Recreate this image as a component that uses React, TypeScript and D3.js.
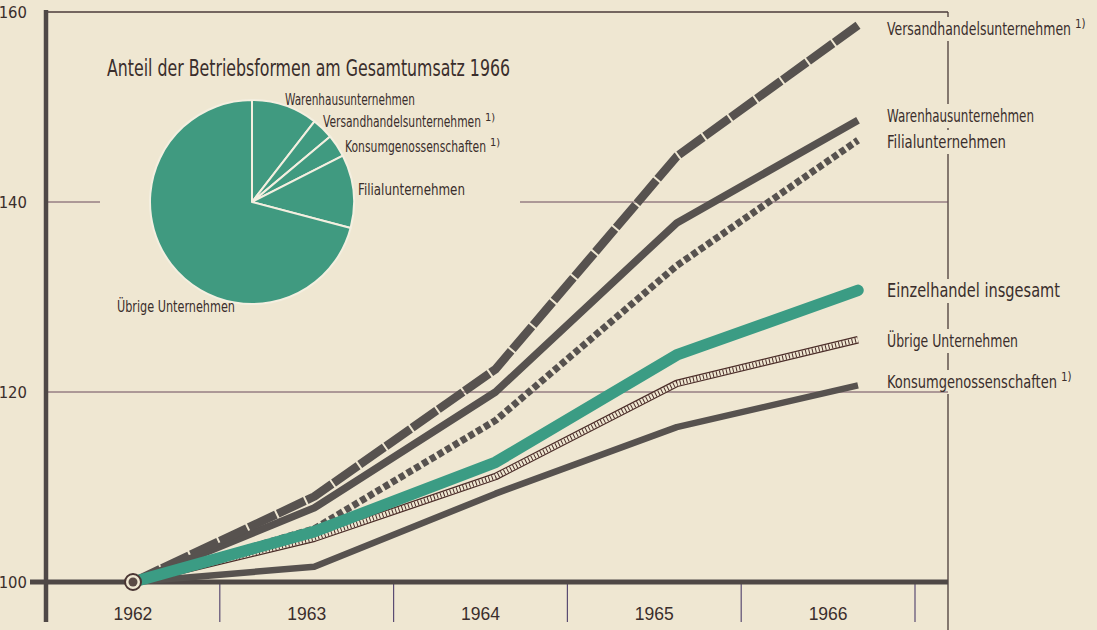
import React from 'react';
import * as d3 from 'd3';

// ── Data (1962 = 100) ─────────────────────────────────────
const years = [1962, 1963, 1964, 1965, 1966];
const versand = [100, 109.0, 122.4, 144.8, 158.6];
const warenhaus = [100, 107.8, 120.0, 137.8, 148.6];
const filial = [100, 105.6, 117.0, 133.3, 146.5];
const einzel = [100, 105.3, 112.6, 123.9, 130.7];
const uebrige = [100, 104.6, 111.1, 120.9, 125.5];
const konsum = [100, 101.6, 109.3, 116.3, 120.7];
const yTicks = [100, 120, 140, 160];

// Pie: share of total turnover 1966 (percent)
const pieNames = ['Warenhausunternehmen', 'Versandhandelsunternehmen', 'Konsumgenossenschaften', 'Filialunternehmen', 'Übrige Unternehmen'];
const pieShares = [10.5, 3.4, 3.6, 11.6, 70.9];
const pieNotes = [false, true, true, false, false];

const W = 1097;
const H = 630;
const PAPER = '#efe7d2';
const INK = '#3a2e2c';
const LINE = '#57524f';
const GREEN = '#3b9c84';
const PIE_GREEN = '#409a80';
const NARROW = "'Liberation Sans Narrow', 'DejaVu Sans Condensed', 'Arial Narrow', sans-serif";

const x = d3.scaleLinear().domain([1962, 1966]).range([133, 858]);
const y = d3.scaleLinear().domain([100, 160]).range([582, 12]);
const band = d3.scaleBand<number>().domain(years).range([46, 915]);
const AX_L = 46;
const AX_R = 948;

const line = (vals: number[]) =>
  d3.line<number>().x((_, i) => x(years[i])).y(v => y(v))(vals) ?? '';

// right-side labels, next to the last value of each series
const rightLabels = [
  { text: 'Versandhandelsunternehmen', note: true, base: 35, len: 184, size: 17 },
  { text: 'Warenhausunternehmen', note: false, base: 122, len: 147, size: 17 },
  { text: 'Filialunternehmen', note: false, base: 148, len: 119, size: 17 },
  { text: 'Einzelhandel insgesamt', note: false, base: 297, len: 173, size: 20 },
  { text: 'Übrige Unternehmen', note: false, base: 347, len: 131, size: 17 },
  { text: 'Konsumgenossenschaften', note: true, base: 388, len: 170, size: 17 },
];

// the right frame line is broken where the labels sit
const borderGaps = rightLabels.map(l => [l.base - 18, l.base + 6]);
const borderSegs = d3.pairs([[0, y(160)], ...borderGaps, [H, H]]).map(([a, b]) => [a[1], b[0]]);

// pie label placement (relative to pie centre)
const PIE_CX = 252;
const PIE_CY = 202;
const PIE_R = 102;
const pieLabelPos = [
  { dx: 33, dy: -97, len: 130 },
  { dx: 71, dy: -75, len: 158 },
  { dx: 93, dy: -50, len: 141 },
  { dx: 106, dy: -7, len: 107 },
  { dx: -135, dy: 110, len: 118 },
];

export default function App() {
  const arcs = d3.pie<number>().sort(null).startAngle(0).endAngle(2 * Math.PI)(pieShares);
  const arc = d3.arc<d3.PieArcDatum<number>>().innerRadius(0).outerRadius(PIE_R);

  return (
    <svg width={W} height={H} style={{ position: 'absolute', left: 0, top: 0, background: PAPER }}>
      <rect width={W} height={H} fill={PAPER} />

      {/* ── Frame & grid ── */}
      <line x1={AX_L} x2={AX_R} y1={y(160)} y2={y(160)} stroke="#4b3b3a" strokeWidth={1.5} />
      {borderSegs.map(([a, b], i) => (
        <line key={i} x1={AX_R} x2={AX_R} y1={a} y2={b} stroke="#4b3b3a" strokeWidth={1.3} />
      ))}
      <line x1={AX_L} x2={AX_R} y1={y(120)} y2={y(120)} stroke="#6a4a5c" strokeWidth={1} />
      <line x1={AX_L} x2={100} y1={y(140)} y2={y(140)} stroke="#6a4a5c" strokeWidth={1} />
      <line x1={520} x2={AX_R} y1={y(140)} y2={y(140)} stroke="#6a4a5c" strokeWidth={1} />

      {band.domain().map(yr => (
        <line key={yr} x1={(band(yr) ?? 0) + band.bandwidth()} x2={(band(yr) ?? 0) + band.bandwidth()}
          y1={y(100)} y2={622} stroke="#5a4c72" strokeWidth={1.2} />
      ))}

      <line x1={AX_L} x2={AX_L} y1={y(160) - 2} y2={622} stroke="#4f4846" strokeWidth={4.5} />
      <line x1={30} x2={AX_R} y1={y(100)} y2={y(100)} stroke="#4f4846" strokeWidth={5} />

      {yTicks.map(t => (
        <text key={t} x={27} y={y(t) + 6} textAnchor="end" fontFamily={NARROW} fontSize={16.5} fill={INK}>{t}</text>
      ))}
      {years.map(yr => (
        <text key={yr} x={(band(yr) ?? 0) + band.bandwidth() / 2} y={620} textAnchor="middle"
          fontFamily="'Liberation Sans', Arial, sans-serif" fontSize={17.5} fill={INK}>{yr}</text>
      ))}

      {/* ── Series ── */}
      <path d={line(konsum)} fill="none" stroke={LINE} strokeWidth={6.5} strokeLinejoin="round" />
      <path d={line(uebrige)} fill="none" stroke="#4a2c28" strokeWidth={7.5} strokeLinejoin="round" />
      <path d={line(uebrige)} fill="none" stroke={PAPER} strokeWidth={5} strokeLinejoin="round" />
      <path d={line(uebrige)} fill="none" stroke="#4a2c28" strokeWidth={5} strokeDasharray="1 2.4" />
      <path d={line(filial)} fill="none" stroke={LINE} strokeWidth={7} strokeDasharray="6 3" />
      <path d={line(warenhaus)} fill="none" stroke={LINE} strokeWidth={7.5} strokeLinejoin="round" />
      <path d={line(versand)} fill="none" stroke={LINE} strokeWidth={8.5} strokeDasharray="30 2" strokeLinejoin="round" />
      <path d={line(einzel)} fill="none" stroke={GREEN} strokeWidth={11.5} strokeLinejoin="round" strokeLinecap="round" />

      <circle cx={x(1962)} cy={y(100)} r={8} fill={PAPER} stroke="#4a3634" strokeWidth={2} />
      <circle cx={x(1962)} cy={y(100)} r={4.5} fill="#5a4a46" />

      {/* ── Right labels ── */}
      {rightLabels.map(l => (
        <g key={l.text}>
          <text x={887} y={l.base} fontFamily={NARROW} fontSize={l.size} fill={INK}
            textLength={l.len} lengthAdjust="spacingAndGlyphs">{l.text}</text>
          {l.note && (
            <text x={887 + l.len + 4} y={l.base - 7} fontFamily={NARROW} fontSize={11.5} fill={INK}>1)</text>
          )}
        </g>
      ))}

      {/* ── Pie ── */}
      <text x={107} y={76} fontFamily={NARROW} fontSize={23} fill={INK} textLength={403} lengthAdjust="spacingAndGlyphs">
        Anteil der Betriebsformen am Gesamtumsatz 1966
      </text>
      <g transform={`translate(${PIE_CX},${PIE_CY})`}>
        {arcs.map((a, i) => (
          <path key={i} d={arc(a) ?? ''} fill={PIE_GREEN} stroke="#f4efe0" strokeWidth={2} strokeLinejoin="round" />
        ))}
        {pieNames.map((n, i) => (
          <g key={n}>
            <text x={pieLabelPos[i].dx} y={pieLabelPos[i].dy} fontFamily={NARROW} fontSize={15.5} fill={INK}
              textLength={pieLabelPos[i].len} lengthAdjust="spacingAndGlyphs">{n}</text>
            {pieNotes[i] && (
              <text x={pieLabelPos[i].dx + pieLabelPos[i].len + 4} y={pieLabelPos[i].dy - 6}
                fontFamily={NARROW} fontSize={11} fill={INK}>1)</text>
            )}
          </g>
        ))}
      </g>
    </svg>
  );
}
